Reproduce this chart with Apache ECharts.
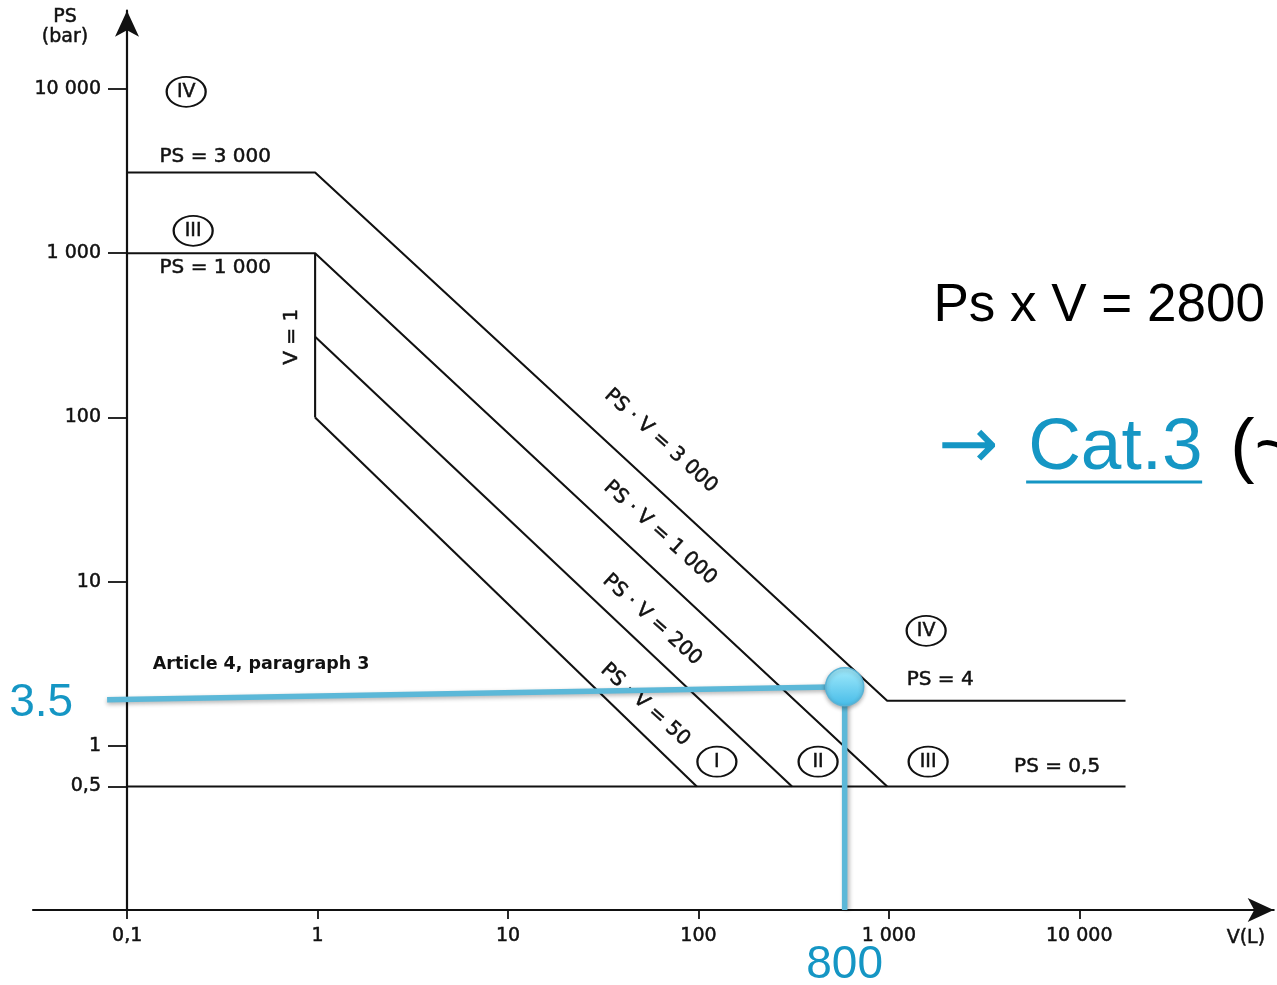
<!DOCTYPE html>
<html>
<head>
<meta charset="utf-8">
<script src="https://cdn.jsdelivr.net/npm/echarts@6/dist/echarts.min.js"></script>
<style>html,body{margin:0;padding:0;background:#fff}#c{width:1277px;height:985px}</style>
</head>
<body>
<div id="c"></div>
<script>
// ---- axis ticks (positions) ----
const xTicks = [0.1, 1, 10, 100, 1000, 10000];
const xTickLabels = ['0,1', '1', '10', '100', '1 000', '10 000'];
const yTicks = [0.565, 1, 10, 100, 1000, 10000];
const yTickLabels = ['0,5', '1', '10', '100', '1 000', '10 000'];

// ---- category boundary lines [V (L), PS (bar)] ----
const limit3000 = [[0.1, 3100], [0.97, 3100], [980, 1.88], [17500, 1.88]];
const limit1000 = [[0.1, 1000], [0.97, 1000], [980, 0.565]];
const limitLow = [[0.1, 0.565], [17500, 0.565]];
const limitV1 = [[0.97, 1000], [0.97, 100]];
const limit200 = [[0.97, 310], [310, 0.565]];
const limit50 = [[0.97, 100], [98, 0.565]];

// ---- category zones (circled numerals) ----
const zoneNames = ['IV', 'III', 'IV', 'I', 'II', 'III'];
const zoneV = [0.204, 0.222, 1570, 125, 425, 1608];
const zonePS = [9620, 1370, 5.02, 0.8, 0.8, 0.8];

// ---- text notes on the chart ----
const noteText = ['PS = 3 000', 'PS = 1 000', 'V = 1', 'PS · V = 3 000', 'PS · V = 1 000', 'PS · V = 200', 'PS · V = 50', 'PS = 4', 'PS = 0,5'];
const noteV = [0.29, 0.29, 0.734, 63.5, 62.9, 57.1, 52.5, 1860, 7650];
const notePS = [3866, 815, 310, 72, 19.8, 5.85, 1.78, 2.52, 0.745];
const articleText = 'Article 4, paragraph 3';
const articleV = 0.505;
const articlePS = 3.11;

// ---- read-out overlay ----
const readH = [[0.0784, 1.906], [586, 2.29]];
const readV = [[586, 2.29], [586, 0.1]];
const readPoint = [[586, 2.29]];
const readPSLabel = '3.5';
const readVLabel = '800';
const resultText = 'Ps x V = 2800';
const resultV = 12720, resultPS = 472;
const catArrow = '→', catText = 'Cat.3', catTail = '(~';
const catV = 1815, catPS = 64.0;
const underlineV = 5260, underlinePS = 40.5;

// ---------------------------------------------------------------
const BLUE = '#1596c4';
const INK = '#111';
const FONT = 'DejaVu Sans';
const heavy = {textBorderColor: INK, textBorderWidth: 0.5};

function lookup(v, ticks, labels) {
  for (let i = 0; i < ticks.length; i++) {
    if (Math.abs(Math.log10(v) - Math.log10(ticks[i])) < 1e-3) return labels[i];
  }
  return '';
}

const noteRotate = [0, 0, 90, -42, -42, -42, -42, 0, 0];

function boundary(data) {
  return {
    type: 'line', data: data, showSymbol: false, silent: true, z: 2,
    lineStyle: {color: INK, width: 2.1}
  };
}

const chart = echarts.init(document.getElementById('c'), null, {renderer: 'canvas'});
chart.setOption({
  animation: false,
  backgroundColor: '#fff',
  grid: {left: 33, right: 3.3, top: 10.7, bottom: 75, containLabel: false, outerBoundsMode: 'none'},
  xAxis: {
    type: 'log', logBase: 10, min: 0.032, max: 105000,
    name: 'V(L)', nameLocation: 'end', nameGap: -47,
    nameTextStyle: Object.assign({fontFamily: FONT, fontSize: 19, color: INK, align: 'left', verticalAlign: 'top', lineHeight: 56}, heavy),
    axisLine: {show: true, symbol: ['none', 'arrow'], symbolSize: [18, 26], lineStyle: {color: INK, width: 2.2}},
    axisTick: {show: true, inside: false, length: 9, customValues: xTicks, lineStyle: {color: INK, width: 1.8}},
    axisLabel: Object.assign({show: true, customValues: xTicks, margin: 17, fontFamily: FONT, fontSize: 19, color: INK,
      formatter: v => lookup(v, xTicks, xTickLabels)}, heavy),
    splitLine: {show: false},
    minorTick: {show: false}
  },
  yAxis: {
    type: 'log', logBase: 10, min: 0.1, max: 30000, offset: -94,
    name: 'PS\n(bar)', nameLocation: 'end', nameGap: -16.3,
    nameTextStyle: Object.assign({fontFamily: FONT, fontSize: 19, lineHeight: 20, color: INK, align: 'center', verticalAlign: 'middle', padding: [0, 124, 0, 0]}, heavy),
    axisLine: {show: true, symbol: ['none', 'arrow'], symbolSize: [18, 26], lineStyle: {color: INK, width: 2.2}},
    axisTick: {show: true, inside: false, length: 19, customValues: yTicks, lineStyle: {color: INK, width: 1.8}},
    axisLabel: Object.assign({show: true, customValues: yTicks, margin: 26, fontFamily: FONT, fontSize: 19, color: INK,
      formatter: v => lookup(v, yTicks, yTickLabels)}, heavy),
    splitLine: {show: false},
    minorTick: {show: false}
  },
  series: [
    boundary(limit3000),
    boundary(limit1000),
    boundary(limitLow),
    boundary(limitV1),
    boundary(limit200),
    boundary(limit50),
    {
      type: 'scatter', silent: true, z: 3, symbol: 'circle', symbolSize: [39, 30],
      itemStyle: {color: '#fff', borderColor: INK, borderWidth: 2, opacity: 1},
      label: Object.assign({show: true, position: 'inside', fontFamily: FONT, fontSize: 19, color: INK, formatter: p => p.name}, heavy),
      data: zoneNames.map((n, i) => ({name: n, value: [zoneV[i], zonePS[i]]}))
    },
    {
      type: 'scatter', silent: true, z: 3, symbolSize: 0, itemStyle: {opacity: 1},
      label: Object.assign({show: true, position: 'inside', fontFamily: FONT, fontSize: 20, color: INK}, heavy),
      data: noteText.map((t, i) => ({value: [noteV[i], notePS[i]], label: {formatter: t, rotate: noteRotate[i]}}))
        .concat([{value: [articleV, articlePS], label: {formatter: articleText, fontWeight: 'bold', fontSize: 17.5, textBorderWidth: 0}}])
    },
    {
      type: 'line', data: readH, showSymbol: false, silent: true, z: 5,
      lineStyle: {color: '#5cb8d8', width: 5.5, shadowColor: 'rgba(0,0,0,0.3)', shadowBlur: 4, shadowOffsetY: 2}
    },
    {
      type: 'line', data: readV, showSymbol: false, silent: true, z: 5,
      lineStyle: {color: '#5cb8d8', width: 5.5, shadowColor: 'rgba(0,0,0,0.3)', shadowBlur: 4, shadowOffsetX: 2}
    },
    {
      type: 'scatter', data: readPoint, silent: true, z: 6, symbolSize: 38,
      itemStyle: {
        opacity: 1,
        color: new echarts.graphic.LinearGradient(0, 0, 0, 1, [
          {offset: 0, color: '#a4ecfc'}, {offset: 1, color: '#46bbe8'}
        ]),
        borderColor: '#59b3d6', borderWidth: 1.5,
        shadowColor: 'rgba(0,0,0,0.3)', shadowBlur: 4, shadowOffsetY: 2
      }
    },
    {
      type: 'scatter', silent: true, z: 6, symbolSize: 0, clip: false, itemStyle: {opacity: 1},
      label: {show: true, fontFamily: 'Liberation Sans', fontSize: 46, color: BLUE},
      data: [
        {value: readH[0], label: {formatter: readPSLabel, position: 'left', distance: 34, offset: [0, 3]}},
        {value: readV[1], label: {formatter: readVLabel, position: 'bottom', distance: 32}},
        {value: [resultV, resultPS], label: {formatter: resultText, position: 'inside', fontSize: 53, color: '#000'}},
        {value: [catV, catPS], label: {
          position: 'right', distance: 0, align: 'left',
          formatter: '{a|' + catArrow + '}{b|' + catText + '}{c|' + catTail + '}',
          rich: {
            a: {fontFamily: 'DejaVu Sans', fontSize: 72, color: BLUE, width: 90},
            b: {fontFamily: 'Liberation Sans', fontSize: 73, color: BLUE, width: 202},
            c: {fontFamily: 'Liberation Sans', fontSize: 73, color: '#000'}
          }
        }},
        {value: [underlineV, underlinePS], label: {
          position: 'right', distance: 0, align: 'left', formatter: ' ',
          fontSize: 1, lineHeight: 3, width: 176, height: 3, padding: 0, backgroundColor: BLUE
        }}
      ]
    }
  ]
});
</script>
</body>
</html>
